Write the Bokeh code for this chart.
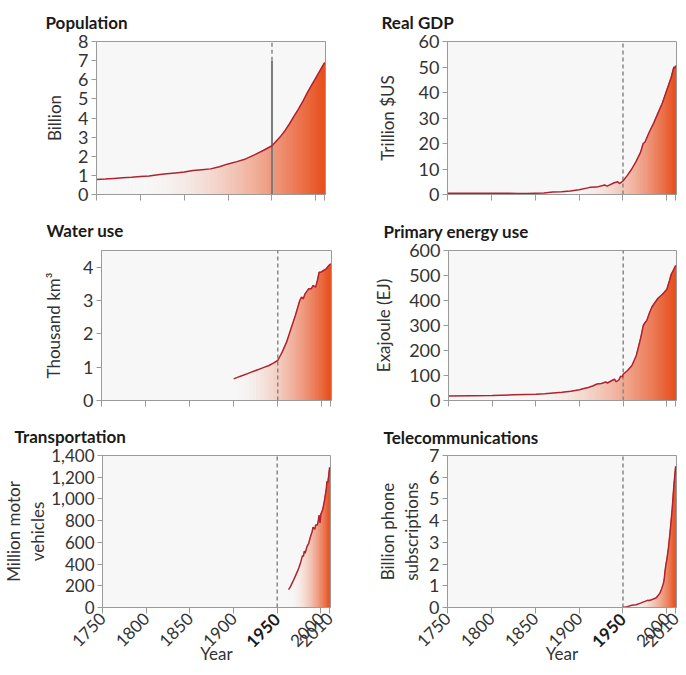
import numpy as np
from math import pi
from bokeh.plotting import figure
from bokeh.layouts import column, row
from bokeh.models import Range1d, FixedTicker, NumeralTickFormatter, LinearAxis
from bokeh.embed import file_html
from bokeh.resources import INLINE

# ---------------- data ----------------
X_START, X_END = 1750, 2011
X_TICKS = [1750, 1800, 1850, 1900, 1950, 2000, 2010]
MARK_YEAR = 1950

pop_years = [1750, 1760, 1770, 1780, 1790, 1800, 1810, 1820, 1830, 1840, 1850, 1860, 1870, 1880,
             1890, 1900, 1910, 1920, 1930, 1940, 1950, 1955, 1960, 1965, 1970, 1975, 1980, 1985,
             1990, 1995, 2000, 2005, 2010]
pop_values = [0.79, 0.81, 0.84, 0.87, 0.90, 0.94, 0.97, 1.03, 1.08, 1.13, 1.18, 1.25, 1.30, 1.34,
              1.45, 1.60, 1.72, 1.86, 2.07, 2.30, 2.55, 2.80, 3.05, 3.35, 3.70, 4.08, 4.45, 4.85,
              5.30, 5.70, 6.10, 6.50, 6.90]

gdp_years = [1750, 1800, 1820, 1830, 1840, 1850, 1860, 1870, 1880, 1890, 1900, 1910, 1913, 1920,
             1929, 1932, 1940, 1944, 1946, 1950, 1955, 1960, 1965, 1970, 1973, 1975, 1980, 1985,
             1990, 1995, 2000, 2005, 2008, 2009, 2010]
gdp_values = [0.5, 0.5, 0.5, 0.35, 0.4, 0.5, 0.6, 1.0, 1.1, 1.4, 1.9, 2.6, 2.8, 2.9,
              3.7, 3.3, 4.6, 5.0, 4.3, 5.3, 7.5, 10.0, 13.0, 16.5, 20.0, 20.5, 24.5, 28.0,
              32.0, 36.0, 41.0, 46.0, 50.0, 49.5, 50.5]

water_years = [1900, 1905, 1910, 1915, 1920, 1925, 1930, 1935, 1940, 1945, 1950, 1953, 1955, 1960,
               1965, 1970, 1975, 1977, 1979, 1981, 1985, 1988, 1990, 1993, 1995, 1997, 1999, 2002,
               2005, 2008, 2010]
water_values = [0.65, 0.70, 0.75, 0.80, 0.85, 0.90, 0.95, 1.00, 1.05, 1.12, 1.20, 1.35, 1.45, 1.75,
                2.15, 2.55, 3.00, 3.10, 3.05, 3.20, 3.35, 3.35, 3.45, 3.40, 3.60, 3.85, 3.85, 3.90,
                3.95, 4.05, 4.10]

energy_years = [1750, 1775, 1800, 1825, 1850, 1860, 1870, 1880, 1890, 1900, 1905, 1910, 1915, 1920,
                1925, 1930, 1932, 1937, 1940, 1942, 1945, 1947, 1949, 1950, 1955, 1960, 1965, 1970,
                1973, 1975, 1977, 1980, 1983, 1985, 1990, 1995, 2000, 2003, 2005, 2008, 2010]
energy_values = [18, 19, 20, 23, 25, 27, 30, 33, 37, 43, 48, 52, 58, 66,
                 68, 74, 70, 80, 85, 75, 82, 97, 95, 105, 120, 140, 180, 250,
                 300, 312, 320, 350, 375, 385, 410, 425, 445, 480, 505, 525, 540]

transport_years = [1963, 1965, 1968, 1970, 1973, 1975, 1977, 1979, 1980, 1981, 1982, 1984, 1986,
                   1988, 1990, 1991, 1993, 1994, 1996, 1997, 1998, 1999, 2000, 2002, 2004, 2006,
                   2007, 2008, 2009, 2010]
transport_values = [165, 190, 240, 275, 330, 370, 420, 480, 470, 520, 500, 560, 590,
                    650, 700, 740, 720, 760, 760, 800, 850, 780, 860, 900, 980, 1080,
                    1160, 1150, 1220, 1290]

tele_years = [1950, 1955, 1960, 1965, 1970, 1975, 1978, 1980, 1984, 1988, 1990, 1992, 1994, 1996,
              1997, 1998, 1999, 2000, 2001, 2002, 2004, 2006, 2008, 2010]
tele_values = [0.0, 0.04, 0.10, 0.13, 0.20, 0.28, 0.33, 0.32, 0.38, 0.45, 0.55, 0.65, 0.85, 1.1,
               1.3, 1.7, 2.0, 2.2, 2.5, 2.8, 3.6, 4.5, 5.6, 6.5]

titles = ["Population", "Real GDP", "Water use", "Primary energy use", "Transportation",
          "Telecommunications"]
ylabels = ["Billion", "Trillion $US", "Thousand km³", "Exajoule (EJ)", "Million motor\nvehicles",
           "Billion phone\nsubscriptions"]
y_ends = [8, 60, 4.5, 600, 1400, 7]
y_ticks = [[0, 1, 2, 3, 4, 5, 6, 7, 8], [0, 10, 20, 30, 40, 50, 60], [0, 1, 2, 3, 4],
           [0, 100, 200, 300, 400, 500, 600], [0, 200, 400, 600, 800, 1000, 1200, 1400],
           [0, 1, 2, 3, 4, 5, 6, 7]]

# ---------------- style ----------------
BG = np.array([247, 247, 247])
ORANGE = np.array([232, 78, 28])
LINE_COLOR = "#b0232e"
FONT = "Lato"

# (fig width, fig height, left, right, top, bottom, title offset, title standoff,
#  ylabel standoff, gradient start, y tick font size)
geom = [
    (343, 206, 96, 18, 41, 12, -51, 17, 10, 1800, "18px"),
    (341, 206, 104, 8, 41, 12, -66, 17, 18, 1890, "18px"),
    (343, 208, 101, 12, 44, 12, -55, 20, 16, 1900, "18px"),
    (341, 208, 105, 8, 42, 14, -65, 18, 12, 1840, "18px"),
    (343, 253, 101, 13, 41, 60, -88, 17, 0, 1965, "17px"),
    (341, 253, 104, 8, 40, 60, -64, 16, 4, 1960, "18px"),
]
series = [(pop_years, pop_values), (gdp_years, gdp_values), (water_years, water_values),
          (energy_years, energy_values), (transport_years, transport_values),
          (tele_years, tele_values)]


def grad_color(x, g0):
    t = np.clip((x - g0) / (X_END - g0), 0, 1)
    f = t ** 1.8
    c = BG * (1 - f) + ORANGE * f
    return "#%02x%02x%02x" % tuple(int(round(v)) for v in c)


def make_panel(i):
    w, h, bl, br, bt, bb, toff, tstand, ystand, g0, yfs = geom[i]
    years, vals = series[i]
    bottom = i >= 4
    p = figure(width=w, height=h, min_border_left=bl, min_border_right=br, min_border_top=bt,
               min_border_bottom=bb, x_range=Range1d(X_START, X_END),
               y_range=Range1d(0, y_ends[i]), output_backend="svg", toolbar_location=None)
    p.background_fill_color = "#f7f7f7"
    p.border_fill_color = "white"
    p.outline_line_color = "#9a9a9a"
    p.outline_line_width = 1
    p.xgrid.visible = False
    p.ygrid.visible = False

    p.title.text = titles[i]
    p.title.align = "left"
    p.title.offset = toff
    p.title.standoff = tstand
    p.title.text_font = FONT
    p.title.text_font_size = "17px"
    p.title.text_font_style = "bold"
    p.title.text_color = "#1a1a1a"

    # gradient area
    xf = np.arange(years[0], years[-1] + 0.001, 0.5)
    yf = np.interp(xf, years, vals)
    xs, ys, cols = [], [], []
    for k in range(len(xf) - 1):
        x0, x1 = xf[k], xf[k + 1]
        xs.append([x0, x1, x1, x0])
        ys.append([0, 0, yf[k + 1], yf[k]])
        cols.append(grad_color((x0 + x1) / 2, g0))
    p.patches(xs, ys, fill_color=cols, line_color=cols, line_width=0.8)

    # 1950 marker
    if i == 0:
        p.line([MARK_YEAR, MARK_YEAR], [0, 7], line_color="#7a7a7a", line_width=2)
        p.line([MARK_YEAR, MARK_YEAR], [7, y_ends[i]], line_color="#888888", line_width=1.5,
               line_dash="4 3")
    else:
        p.line([MARK_YEAR, MARK_YEAR], [0, y_ends[i]], line_color="#888888", line_width=1.5,
               line_dash="4 3")

    p.line(years, vals, line_color=LINE_COLOR, line_width=1.5)

    # axes
    for ax in (p.xaxis[0], p.yaxis[0]):
        ax.axis_line_color = "#9a9a9a"
        ax.major_tick_line_color = "#9a9a9a"
        ax.major_tick_in = 0
        ax.minor_tick_in = 0
        ax.minor_tick_out = 0
        ax.major_label_text_font = FONT
        ax.major_label_text_font_size = yfs
        ax.major_label_text_color = "#333333"
        ax.axis_label_text_font = FONT
        ax.axis_label_text_font_size = "17px"
        ax.axis_label_text_font_style = "normal"
        ax.axis_label_text_color = "#333333"
        ax.axis_label_text_line_height = 1.15
    p.yaxis.ticker = FixedTicker(ticks=y_ticks[i])
    p.yaxis.major_tick_out = 5
    p.yaxis.major_label_standoff = 3
    p.yaxis.axis_label = ylabels[i]
    p.yaxis.axis_label_standoff = ystand
    if i == 4:
        p.yaxis.formatter = NumeralTickFormatter(format="0,0")
    p.xaxis.ticker = FixedTicker(ticks=X_TICKS)
    p.xaxis.major_tick_out = 6
    if bottom:
        p.xaxis.major_label_text_font_size = "17px"
        p.xaxis.major_label_orientation = pi / 4
        p.xaxis.major_label_standoff = 2
        p.xaxis.major_label_overrides = {MARK_YEAR: ""}
        p.xaxis.axis_label = "Year"
        p.xaxis.axis_label_standoff = -13
        # bold 1950 tick label: a second, tickless axis whose label is pulled back up
        p.add_layout(LinearAxis(ticker=FixedTicker(ticks=[MARK_YEAR]), axis_line_color=None,
                                major_tick_line_color=None, minor_tick_line_color=None,
                                major_tick_out=0, major_tick_in=0, minor_tick_out=0,
                                minor_tick_in=0, major_label_orientation=pi / 4,
                                major_label_standoff=-50, major_label_text_font=FONT,
                                major_label_text_font_size="17px",
                                major_label_text_font_style="bold",
                                major_label_text_color="#1a1a1a"), "below")
    else:
        p.xaxis.major_label_text_font_size = "0px"
        p.xaxis.major_label_text_color = None
        p.xaxis.major_label_standoff = 0
    return p


panels = [make_panel(i) for i in range(6)]
layout = column(row(panels[0], panels[1]), row(panels[2], panels[3]), row(panels[4], panels[5]))
open("out.html", "w").write(file_html(layout, INLINE))
